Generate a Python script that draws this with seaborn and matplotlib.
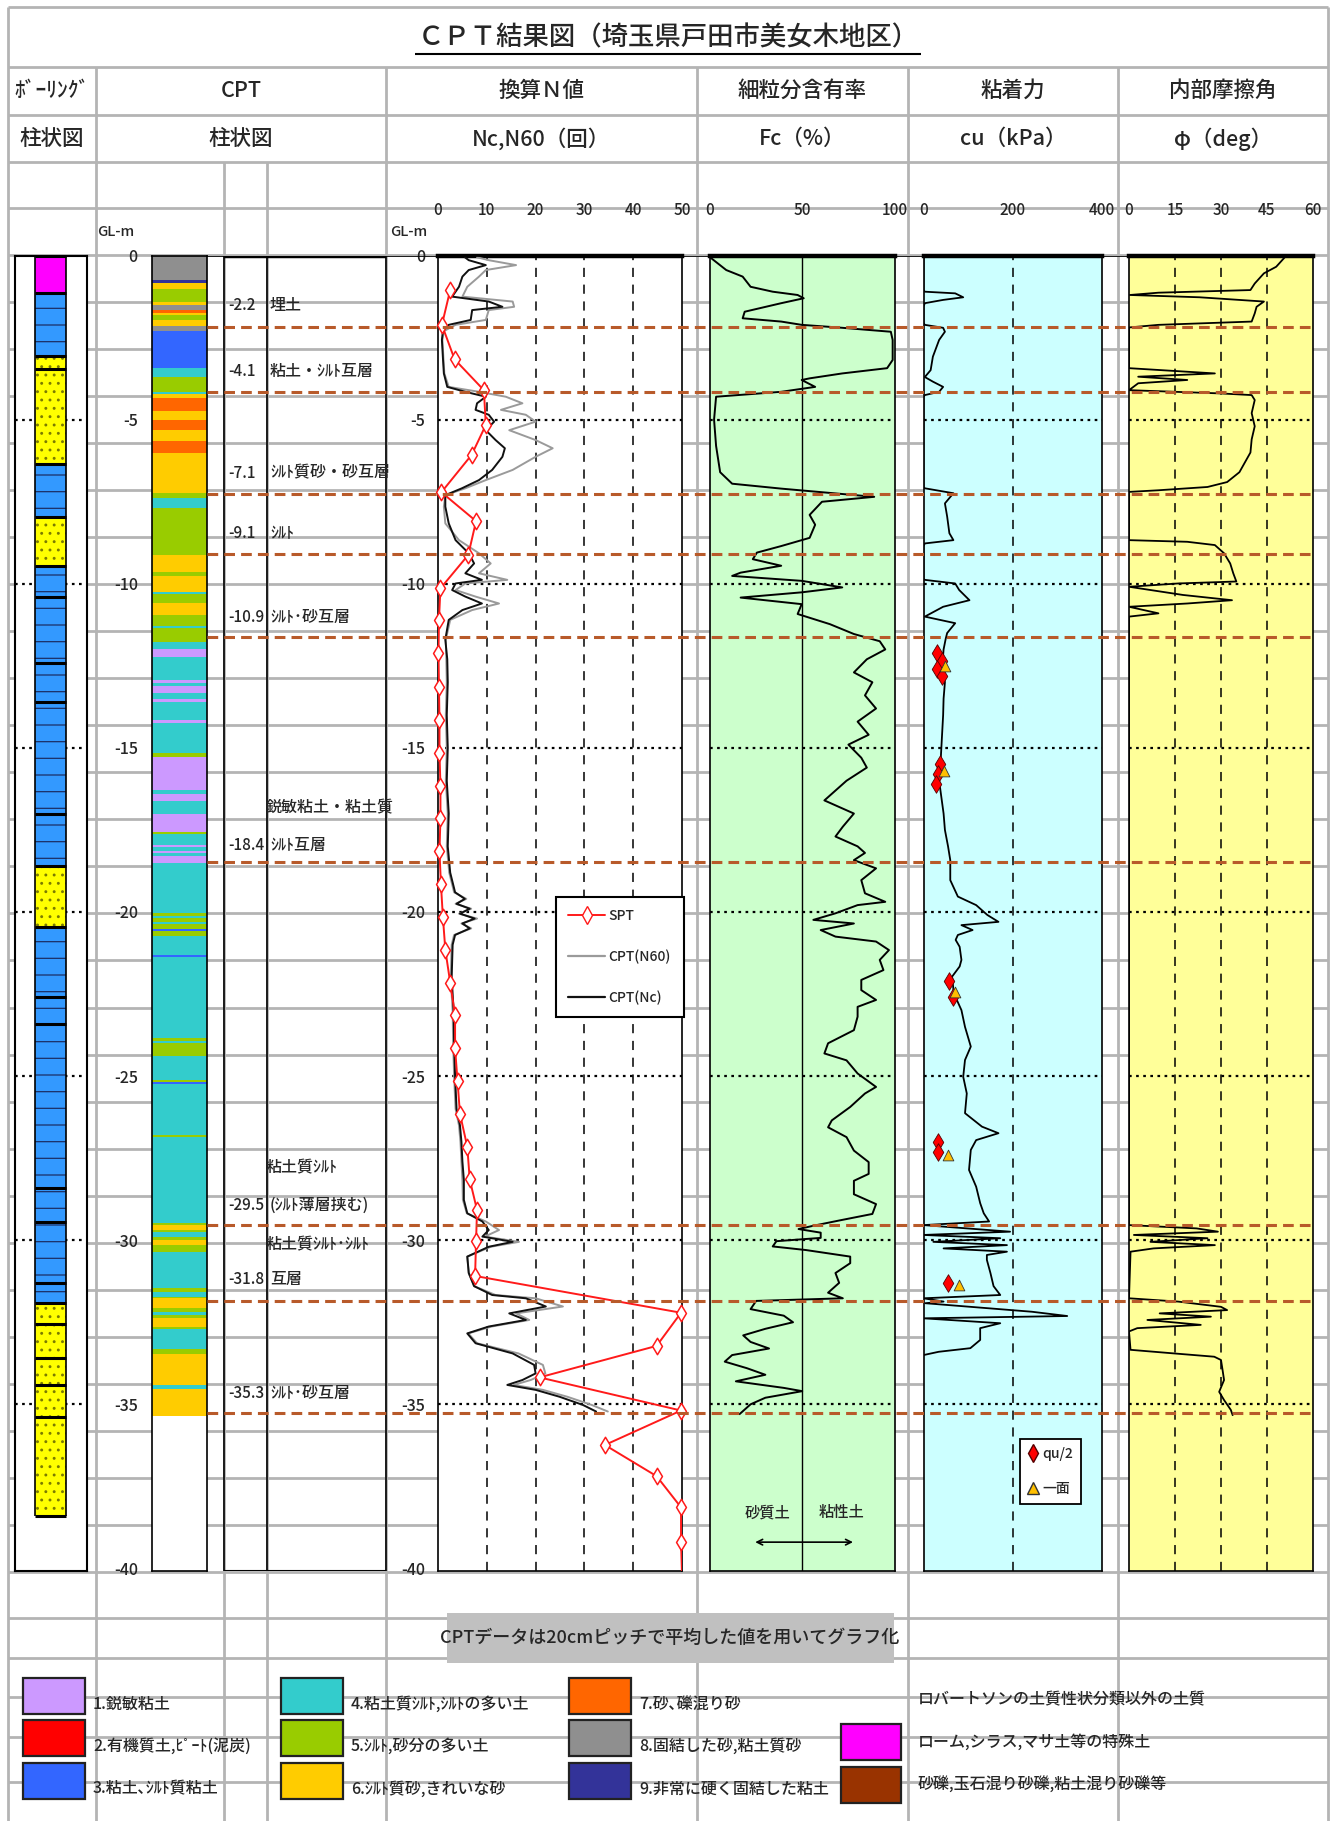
import numpy as np
import pandas as pd
import matplotlib
matplotlib.use('Agg')
import matplotlib.pyplot as plt
from matplotlib.patches import Rectangle
from matplotlib.lines import Line2D
import seaborn as sns

sns.set_style('white')
plt.rcParams['font.family'] = ['Noto Sans CJK JP', 'DejaVu Sans']
plt.rcParams['font.weight'] = 'medium'
plt.rcParams['hatch.linewidth'] = 0.9

# ---------------- data ----------------
# boring log layers (depth below GL, m)
boring_top = [0.0, 1.15, 3.05, 3.45, 6.35, 7.95, 9.45, 10.4, 12.4, 13.6, 17.0, 18.6,
              20.45, 22.6, 23.4, 28.4, 29.45, 31.3, 31.9, 32.55, 33.6, 34.4, 35.4]
boring_bot = boring_top[1:] + [38.4]
boring_soil = ['loam', 'clay', 'sand', 'sand', 'clay', 'sand', 'clay', 'clay', 'clay', 'clay',
               'clay', 'sand', 'clay', 'clay', 'clay', 'clay', 'clay', 'clay', 'sand', 'sand',
               'sand', 'sand', 'sand']

# CPT soil behaviour type bands (Robertson class)
cpt_top = [0.00, 0.74, 0.85, 1.03, 1.40, 1.50, 1.66, 1.74, 1.81, 1.96,
           2.14, 2.29, 3.41, 3.71, 4.15, 4.22, 4.35, 4.75, 5.01, 5.31,
           5.64, 6.02, 7.24, 7.40, 7.70, 9.12, 9.63, 9.76, 10.24, 10.31,
           10.59, 10.95, 11.29, 11.36, 11.76, 12.00, 12.22, 12.93, 13.03, 13.11,
           13.34, 13.52, 13.59, 14.15, 14.23, 15.17, 15.27, 16.28, 16.39, 16.61,
           17.01, 17.55, 17.62, 17.96, 18.03, 18.13, 18.21, 18.29, 18.52, 20.02,
           20.12, 20.19, 20.29, 20.37, 20.53, 20.59, 20.73, 21.31, 21.37, 23.85,
           23.92, 24.00, 24.39, 25.12, 25.18, 25.25, 26.80, 26.87, 29.49, 29.55,
           29.68, 29.74, 29.89, 29.99, 30.14, 30.35, 31.47, 31.57, 31.74, 31.77,
           32.08, 32.18, 32.28, 32.38, 32.64, 32.72, 33.30, 33.47, 34.41, 34.52]
cpt_cls = [8, 9, 6, 5, 6, 8, 7, 6, 5, 6,
           8, 3, 4, 5, 4, 6, 7, 6, 7, 6,
           7, 6, 5, 4, 5, 6, 5, 6, 4, 5,
           6, 5, 4, 5, 4, 1, 4, 1, 4, 1,
           4, 1, 4, 1, 4, 5, 1, 4, 1, 4,
           1, 5, 4, 1, 4, 1, 4, 1, 4, 5,
           4, 5, 4, 5, 3, 5, 4, 3, 4, 5,
           4, 5, 4, 5, 3, 4, 5, 4, 5, 6,
           5, 4, 5, 6, 5, 4, 5, 4, 5, 6,
           5, 4, 5, 6, 5, 4, 5, 6, 4, 6]
cpt_end = 35.36

# SPT N values
spt_depth = [1.05, 2.11, 3.16, 4.10, 5.16, 6.07, 7.21, 8.09, 9.12, 10.14, 11.10, 12.12,
             13.15, 14.15, 15.15, 16.15, 17.15, 18.15, 19.15, 20.15, 21.15, 22.15, 23.15,
             24.15, 25.15, 26.15, 27.15, 28.15, 29.08, 30.02, 31.09, 32.21, 33.22, 34.18,
             35.19, 36.24, 37.19, 38.14, 39.19, 40.2]
spt_n = [2.5, 0.8, 3.4, 9.4, 9.8, 6.9, 0.7, 7.8, 6.2, 0.5, 0.2, 0.1,
         0.2, 0.3, 0.3, 0.5, 0.5, 0.3, 0.6, 1.0, 1.5, 2.5, 3.5,
         3.5, 4.0, 4.5, 6.0, 6.5, 8.0, 7.8, 7.6, 49.8, 44.8, 20.8,
         49.8, 34.2, 44.8, 49.8, 49.8, 50.0]

# CPT converted N (Nc)
nc_depth = [0.05, 0.14, 0.29, 0.44, 0.64, 0.95, 1.25, 1.40, 1.56, 1.66, 1.96, 2.11, 2.30,
            2.57, 3.10, 3.59, 4.00, 4.15, 4.30, 4.50, 4.70, 4.85, 5.06, 5.32, 5.62, 5.87,
            6.13, 6.53, 6.84, 7.09, 7.30, 7.65, 8.16, 8.67, 9.07, 9.38, 9.68, 9.88, 9.99,
            10.19, 10.39, 10.60, 10.80, 11.10, 11.70, 12.30, 13.0, 14.0, 15.0, 16.0, 17.0,
            18.0, 18.8, 19.4, 19.6, 19.75, 19.9, 20.05, 20.2, 20.35, 20.5, 20.7, 21.0, 22.0,
            23.0, 24.0, 25.0, 26.0, 26.5, 27.0, 27.6, 28.16, 28.77, 29.18, 29.43, 29.69,
            29.89, 30.05, 30.2, 30.5, 31.0, 31.4, 31.67, 31.77, 32.02, 32.23, 32.43, 32.63,
            32.84, 33.14, 33.45, 33.8, 34.06, 34.26, 34.41, 34.56, 34.77, 35.02, 35.22]
nc_val = [5.5, 6.3, 9.8, 6.3, 5.0, 4.3, 2.9, 10.4, 13.2, 7.0, 6.7, 2.2, 1.0,
          0.8, 1.0, 1.2, 1.9, 5.6, 9.8, 8.0, 7.7, 10.4, 11.5, 9.8, 11.8, 13.7,
          13.2, 11.1, 8.4, 4.9, 1.5, 1.5, 2.2, 3.6, 6.3, 7.4, 5.6, 9.0, 3.6,
          2.9, 5.6, 9.0, 5.0, 2.2, 1.5, 1.9, 2.0, 1.8, 2.0, 1.8, 2.2,
          2.0, 2.5, 3.5, 5.5, 3.8, 6.5, 4.5, 7.5, 5.0, 6.5, 3.5, 3.0, 2.8,
          3.2, 3.3, 3.5, 3.8, 4.5, 4.8, 5.0, 5.3, 5.3, 6.0, 9.1, 10.4,
          9.1, 15.3, 10.4, 6.0, 6.3, 7.4, 11.1, 18.0, 22.1, 14.6, 18.0, 10.4,
          6.0, 7.7, 15.3, 19.7, 20.0, 17.3, 14.2, 20.0, 24.9, 29.7, 32.4]

# CPT N60
n60_depth = nc_depth
n60_val = [8.0, 10.4, 16.0, 9.8, 8.4, 6.0, 5.0, 15.3, 15.6, 10.4, 9.8, 3.6, 1.2,
           0.9, 1.1, 1.3, 2.2, 8.4, 13.9, 17.3, 12.9, 18.0, 20.0, 14.6, 20.0, 23.5,
           20.0, 15.3, 9.8, 5.6, 1.5, 1.2, 1.5, 4.3, 8.4, 10.8, 8.4, 14.2, 5.6,
           3.6, 7.7, 12.5, 7.0, 2.5, 1.6, 1.7, 1.8, 1.6, 1.8, 1.6, 2.0,
           1.8, 2.3, 3.3, 5.8, 3.6, 6.8, 4.3, 8.0, 4.8, 6.8, 3.3, 2.8, 2.6,
           3.0, 3.1, 3.3, 3.6, 4.3, 4.6, 4.8, 5.0, 5.1, 5.9, 9.8, 12.5,
           9.6, 16.6, 10.8, 6.0, 6.3, 7.4, 11.8, 20.0, 25.6, 16.0, 18.7, 11.0,
           6.2, 8.0, 16.5, 21.5, 22.0, 19.0, 15.5, 21.5, 26.5, 31.5, 34.8]

# fines content Fc (%)
fc_depth = [0.05, 0.44, 0.64, 0.95, 1.10, 1.20, 1.30, 1.45, 1.71, 1.91, 2.01, 2.11, 2.19,
            2.32, 2.57, 3.18, 3.43, 3.59, 3.74, 3.79, 4.00, 4.15, 4.30, 5.00, 5.80, 6.60,
            6.95, 7.10, 7.20, 7.35, 7.50, 7.90, 8.20, 8.60, 8.85, 9.05, 9.25, 9.45, 9.66,
            9.76, 9.91, 10.11, 10.26, 10.42, 10.62, 10.92, 11.23, 11.53, 11.75, 12.0, 12.3,
            12.7, 13.0, 13.4, 13.8, 14.2, 14.6, 14.9, 15.3, 15.6, 16.0, 16.3, 16.6, 17.0,
            17.4, 17.7, 18.0, 18.2, 18.42, 18.67, 19.03, 19.43, 19.69, 19.79, 20.04, 20.24,
            20.35, 20.55, 20.75, 20.90, 21.16, 21.46, 21.77, 22.07, 22.38, 22.68, 22.89,
            23.19, 23.60, 24.00, 24.31, 24.52, 24.92, 25.33, 25.53, 25.94, 26.35, 26.56,
            26.86, 27.27, 27.62, 27.98, 28.19, 28.60, 28.90, 29.20, 29.40, 29.56, 29.66,
            29.77, 29.93, 30.03, 30.19, 30.30, 30.40, 30.50, 30.70, 31.00, 31.30, 31.60,
            31.77, 31.85, 32.1, 32.3, 32.5, 32.7, 32.9, 33.1, 33.3, 33.5, 33.7, 33.9, 34.1,
            34.3, 34.5, 34.6, 34.8, 35.0, 35.2, 35.3]
fc_val = [0, 8.8, 17.7, 22, 34, 47.5, 50.8, 38.6, 18.8, 17.7, 38.6, 49.7, 69.5,
          98, 99, 99, 96, 71.7, 54, 49.7, 57, 38.6, 3.3, 2.2, 3.3, 5.5,
          12, 38.6, 58.5, 89, 60.7, 54, 57, 54, 38.6, 25.4, 23.2, 38.6, 16.6,
          12, 49.7, 71.7, 49.7, 16.6, 49.7, 47.5, 65, 78, 92, 95, 85,
          78, 88, 84, 90, 80, 86, 75, 82, 85, 74, 68, 62, 78,
          72, 68, 80, 84, 78, 90, 82, 84, 95, 80, 68, 56,
          78, 60, 68, 90, 97, 92, 94, 82, 82, 90, 80,
          80, 78, 64, 62, 74, 80, 90, 84, 76, 66, 64,
          74, 78, 86, 86, 78, 78, 90, 88, 70, 56, 48,
          60, 60, 36, 34, 52, 64, 76, 76, 68, 70, 64,
          72, 25, 22, 40, 45, 30, 18, 22, 32, 12, 8, 20, 30,
          14, 40, 50, 30, 22, 18, 16]

# cohesion cu (kPa), 0 where not evaluated
cu_depth = [0.00, 1.05, 1.10, 1.15, 1.27, 1.35, 1.45, 1.55, 2.05, 2.11, 2.20, 2.32, 2.57,
            3.08, 3.49, 3.70, 3.84, 4.00, 4.15, 4.25, 4.30, 7.05, 7.09, 7.24, 7.55, 7.95,
            8.46, 8.67, 8.77, 8.85, 9.85, 9.88, 9.99, 10.19, 10.50, 10.70, 11.00, 11.20,
            11.50, 11.66, 12.0, 12.5, 13.0, 13.5, 14.0, 14.5, 15.0, 15.5, 16.0, 16.5, 17.0,
            17.5, 18.0, 18.42, 19.03, 19.53, 19.79, 20.09, 20.30, 20.40, 20.55, 20.70, 20.85,
            21.06, 21.46, 21.66, 21.97, 22.48, 22.99, 23.50, 24.10, 24.51, 25.02, 25.53,
            26.13, 26.54, 26.74, 26.95, 27.25, 27.86, 28.37, 28.87, 29.18, 29.43, 29.54,
            29.64, 29.74, 29.84, 29.94, 30.05, 30.15, 30.25, 30.35, 30.45, 30.60, 31.00,
            31.40, 31.67, 31.77, 31.87, 31.92, 32.18, 32.31, 32.38, 32.53, 32.68, 32.84,
            33.04, 33.29, 33.40, 33.50]
cu_val = [0, 0, 3, 71, 89, 44, 3, 0, 0, 3, 44, 48, 35,
          21, 16, 3, 21, 44, 35, 3, 0, 0, 3, 67, 48, 53,
          58, 67, 3, 0, 0, 3, 71, 80, 103, 44, 3, 71,
          53, 50, 45, 42, 48, 45, 44, 42, 40, 38, 35, 40, 45,
          48, 55, 60, 60, 77, 118, 143, 168, 85, 110, 77, 72,
          81, 85, 81, 64, 68, 85, 93, 106, 93, 89, 97,
          93, 131, 168, 118, 106, 102, 118, 127, 135, 147, 0,
          97, 194, 0, 172, 22, 187, 45, 187, 142, 142, 150,
          157, 172, 0, 45, 4, 243, 322, 0, 172, 127, 127,
          127, 105, 34, 0]

# laboratory cohesion
qu2_depth = [12.1, 12.35, 12.6, 12.8, 15.5, 15.8, 16.1, 22.1, 22.6, 27.0, 27.3, 31.3]
qu2_val = [30, 42, 30, 42, 38, 32, 28, 58, 66, 32, 32, 56]
shear_depth = [12.5, 15.7, 22.45, 27.4, 31.35]
shear_val = [48, 45, 70, 56, 80]

# internal friction angle phi (deg)
phi_depth = [0.03, 0.34, 0.54, 0.85, 1.05, 1.13, 1.20, 1.27, 1.40, 1.56, 1.76, 2.01, 2.11,
             2.19, 3.43, 3.59, 3.69, 3.79, 3.89, 4.10, 4.20, 4.25, 4.40, 4.80, 5.20, 5.60,
             6.00, 6.60, 6.90, 7.05, 7.15, 7.20, 8.67, 8.72, 8.82, 9.07, 9.38, 9.68, 9.93,
             9.99, 10.09, 10.34, 10.50, 10.60, 10.70, 10.90, 11.00, 29.54, 29.64, 29.74,
             29.84, 29.94, 30.05, 30.15, 30.25, 30.35, 31.77, 31.87, 32.03, 32.13, 32.23,
             32.33, 32.43, 32.58, 32.68, 32.78, 33.34, 33.45, 33.55, 33.65, 33.95, 34.26,
             34.62, 34.87, 35.17, 35.33]
phi_val = [51, 48, 44, 41, 39.6, 9.6, 0.3, 23, 44, 41.6, 41, 40, 9.6,
           0, 0, 28, 3, 19, 3, 0, 30, 40, 41, 40, 41, 40,
           39.6, 36, 32, 25.6, 9.6, 0, 0, 19, 28, 31, 33, 34, 35,
           16, 0, 17.6, 33.6, 19, 0, 9.6, 0, 0, 22, 29,
           1.6, 25.6, 7, 28, 8, 0.5, 0, 16, 30, 32, 10,
           26.7, 6, 23.4, 2.7, 0, 0.5, 14.7, 27.8, 30, 30.5, 31,
           29.4, 31, 33.2, 33.8]

# layer boundaries and names
boundary_depth = [2.17, 4.16, 7.26, 9.09, 11.63, 18.49, 29.54, 31.84, 35.25]
layer_num = ['-2.2', '-4.1', '-7.1', '-9.1', '-10.9', '-18.4', '-29.5', '-31.8', '-35.3']
layer_text_depth = [1.51, 3.54, 6.63, 8.46, 11.04, 17.96, 28.93, 31.21, 34.66]
layer_name = ['埋土', '粘土・ｼﾙﾄ互層', 'ｼﾙﾄ質砂・砂互層', 'ｼﾙﾄ', 'ｼﾙﾄ･砂互層', 'ｼﾙﾄ互層',
              '(ｼﾙﾄ薄層挟む)', '互層', 'ｼﾙﾄ･砂互層']
extra_name = ['鋭敏粘土・粘土質', '粘土質ｼﾙﾄ', '粘土質ｼﾙﾄ･ｼﾙﾄ']
extra_name_depth = [16.84, 27.8, 30.15]

rob_colors = {1: '#cc99ff', 2: '#ff0000', 3: '#3366ff', 4: '#33cccc', 5: '#99cc00',
              6: '#ffcc00', 7: '#ff6600', 8: '#8f8f8f', 9: '#333399'}
rob_labels = ['1.鋭敏粘土', '2.有機質土,ﾋﾟｰﾄ(泥炭)', '3.粘土､ｼﾙﾄ質粘土',
              '4.粘土質ｼﾙﾄ,ｼﾙﾄの多い土', '5.ｼﾙﾄ,砂分の多い土', '6.ｼﾙﾄ質砂,きれいな砂',
              '7.砂､礫混り砂', '8.固結した砂,粘土質砂', '9.非常に硬く固結した粘土']
other_labels = ['ローム,シラス,マサ土等の特殊土', '砂礫,玉石混り砂礫,粘土混り砂礫等']
other_colors = ['#ff00ff', '#993300']

header1 = ['ﾎﾞｰﾘﾝｸﾞ', 'CPT', '換算Ｎ値', '細粒分含有率', '粘着力', '内部摩擦角']
header2 = ['柱状図', '柱状図', 'Nc,N60（回）', 'Fc（%）', 'cu（kPa）', 'φ（deg）']

# ---------------- layout ----------------
W, H = 1336, 1821
Y0, YB = 255.6, 1571.0
PPM = 32.82
DMAX = (YB - Y0) / PPM
GRID = '#b4b4b4'
BROWN = '#b85a2a'
depth_ticks = list(range(0, -45, -5))
depth_labels = [str(t) for t in depth_ticks]


def place(x0, x1, y0=Y0, y1=YB):
    return [x0 / W, 1 - y1 / H, (x1 - x0) / W, (y1 - y0) / H]


fig = plt.figure(figsize=(W / 100, H / 100), dpi=100)
bg = fig.add_axes([0, 0, 1, 1])
bg.set_xlim(0, W)
bg.set_ylim(H, 0)
bg.axis('off')

# spreadsheet cell grid
row_y = [7, 67, 115, 162, 208] + [208 + 47.03 * k for k in range(1, 30)] + [1618, 1658, 1697, 1737, 1782]
bg.hlines(row_y, 8, 1328, color=GRID, lw=2.0, zorder=0)
bg.vlines([8, 1328], 7, H, color=GRID, lw=2.0, zorder=0)
bg.vlines([96, 386, 697, 908, 1118], 67, H, color=GRID, lw=2.0, zorder=0)
bg.vlines([224, 267], 162, H, color=GRID, lw=2.0, zorder=0)

title = bg.text(668, 38, 'ＣＰＴ結果図（埼玉県戸田市美女木地区）', ha='center', va='center',
                fontsize=19)
header_x = [52, 241, 541.5, 802.5, 1013, 1223]
for hx, t1, t2 in zip(header_x, header1, header2):
    bg.text(hx, 91, t1, ha='center', va='center', fontsize=15.5)
    bg.text(hx, 139, t2, ha='center', va='center', fontsize=15.5)
bg.text(116, 232, 'GL-m', ha='center', va='center', fontsize=10.5)
bg.text(409, 232, 'GL-m', ha='center', va='center', fontsize=10.5)

# note box
bg.add_patch(Rectangle((447, 1613), 447, 50, facecolor='#c0c0c0', edgecolor='none', zorder=1))
bg.text(670, 1638, 'CPTデータは20cmピッチで平均した値を用いてグラフ化', ha='center',
        va='center', fontsize=13, zorder=2)

# bottom legend of soil classes
col_x = [23, 281, 569]
leg_row = [1678, 1720, 1763]
for i, (lab, cls) in enumerate(zip(rob_labels, range(1, 10))):
    cx, ry = col_x[i // 3], leg_row[i % 3]
    bg.add_patch(Rectangle((cx, ry), 62, 36, facecolor=rob_colors[cls], edgecolor='#222222',
                           lw=1.6, zorder=2))
    bg.text(cx + 70, ry + 26, lab, ha='left', va='center', fontsize=11.5, zorder=2)
bg.text(918, 1700, 'ロバートソンの土質性状分類以外の土質', ha='left', va='center', fontsize=11.5)
for j, (lab, col) in enumerate(zip(other_labels, other_colors)):
    ry = leg_row[j + 1] + 4
    bg.add_patch(Rectangle((841, ry), 60, 36, facecolor=col, edgecolor='#222222', lw=1.6,
                           zorder=2))
    bg.text(918, ry + 18, lab, ha='left', va='center', fontsize=11.5, zorder=2)

# ---------------- boring log ----------------
ax_b = fig.add_axes(place(15, 87))
ax_b.set_xlim(0, 1)
ax_b.set_ylim(-DMAX, 0)
ax_b.set_facecolor('white')
soil_style = {'loam': ('#ff00ff', None, '#222222'),
              'clay': ('#3399ff', '-', '#1c2f66'),
              'sand': ('#ffff00', '..', '#7a7a00')}
ax_b.hlines(depth_ticks[1:-1], 0, 1, color='k', lw=1.6, ls=(0, (1.2, 2)), zorder=0.5)
for top, bot, soil in zip(boring_top, boring_bot, boring_soil):
    fc, hatch, ec = soil_style[soil]
    ax_b.bar(0.495, -(bot - top), bottom=-top, width=0.43, color=fc, hatch=hatch,
             edgecolor=ec, linewidth=0, zorder=1)
ax_b.hlines([-d for d in boring_top] + [-boring_bot[-1]], 0.28, 0.71, color='k', lw=2.2, zorder=2)
ax_b.vlines([0.28, 0.71], -boring_bot[-1], 0, color='k', lw=1.2, zorder=2)
ax_b.set_xticks([])
ax_b.set_yticks([])
for s in ax_b.spines.values():
    s.set_color('k')
    s.set_linewidth(1.5)

# ---------------- CPT soil type column ----------------
ax_c = fig.add_axes(place(151.7, 207.3))
ax_c.set_xlim(0, 1)
ax_c.set_ylim(-DMAX, 0)
ax_c.set_facecolor('white')
cpt_bot = cpt_top[1:] + [cpt_end]
ax_c.bar([0.5] * len(cpt_top), [-(b - t) for t, b in zip(cpt_top, cpt_bot)],
         bottom=[-t for t in cpt_top], width=1.0, color=[rob_colors[c] for c in cpt_cls],
         linewidth=0)
ax_c.set_xticks([])
ax_c.set_yticks(depth_ticks, depth_labels)
ax_c.tick_params(axis='y', length=0, pad=10, labelsize=11.5)
for s in ax_c.spines.values():
    s.set_color('k')
    s.set_linewidth(1.2)


def panel(x0, x1, xlim, xticks, face):
    ax = fig.add_axes(place(x0, x1))
    ax.set_facecolor(face)
    ax.set_xlim(*xlim)
    ax.set_ylim(-DMAX, 0)
    ax.xaxis.tick_top()
    ax.set_xticks(xticks, [str(v) for v in xticks])
    ax.tick_params(axis='x', length=0, pad=26, labelsize=11)
    ax.set_yticks([])
    for s in ax.spines.values():
        s.set_color('k')
        s.set_linewidth(1.2)
    ax.spines['top'].set_linewidth(3.2)
    ax.hlines(depth_ticks[1:-1], xlim[0], xlim[1], color='k', lw=1.6, ls=(0, (1.2, 2)), zorder=1)
    return ax


def profile(ax, depth, val, **kw):
    df = pd.DataFrame({'v': val, 'd': [-d for d in depth]})
    sns.lineplot(data=df, x='v', y='d', orient='y', sort=False, estimator=None, ax=ax, **kw)
    ax.set_xlabel('')
    ax.set_ylabel('')


# ---------------- N value panel ----------------
ax_n = panel(438, 682, (0, 50), [0, 10, 20, 30, 40, 50], 'white')
ax_n.vlines([10, 20, 30, 40], -DMAX, 0, color='k', lw=1.1, ls=(0, (6, 5)), zorder=1)
ax_n.set_yticks(depth_ticks, depth_labels)
ax_n.tick_params(axis='y', left=False, labelleft=True, length=0, pad=9, labelsize=11.5)
profile(ax_n, n60_depth, n60_val, color='#9a9a9a', lw=1.4, zorder=3)
profile(ax_n, nc_depth, nc_val, color='#111111', lw=1.4, zorder=4)
profile(ax_n, spt_depth, spt_n, color='#ff1a1a', lw=1.4, zorder=5)
spt_df = pd.DataFrame({'n': spt_n, 'd': [-d for d in spt_depth]})
spt_df = spt_df[spt_df['d'] > -DMAX]
sns.scatterplot(data=spt_df, x='n', y='d', marker='d', s=70, color='white', edgecolor='#ff1a1a',
                linewidth=1.1, ax=ax_n, zorder=6, clip_on=False)
ax_n.set_xlabel('')
ax_n.set_ylabel('')
ax_n.legend(handles=[Line2D([], [], color='#ff1a1a', lw=1.4, marker='d', ms=9, mfc='white',
                            mec='#ff1a1a'),
                     Line2D([], [], color='#9a9a9a', lw=1.6),
                     Line2D([], [], color='#111111', lw=1.6)],
            labels=['SPT', 'CPT(N60)', 'CPT(Nc)'], loc='upper left',
            bbox_to_anchor=(0.455, 0.518), frameon=True, fancybox=False, framealpha=1,
            edgecolor='k', fontsize=10, handlelength=2.6, labelspacing=1.9, borderpad=0.9,
            handletextpad=0.3).get_frame().set_linewidth(1.5)

# ---------------- Fc panel ----------------
ax_f = panel(710, 894.5, (0, 100), [0, 50, 100], '#ccffcc')
ax_f.axvline(50, color='k', lw=1.0, zorder=1)
profile(ax_f, fc_depth, fc_val, color='k', lw=1.4, zorder=3)
ax_f.text(31, -38.3, '砂質土', ha='center', va='center', fontsize=11)
ax_f.text(71.5, -38.3, '粘性土', ha='center', va='center', fontsize=11)
ax_f.annotate('', xy=(79, -39.2), xytext=(23, -39.2),
              arrowprops=dict(arrowstyle='<->', color='k', lw=1.2))

# ---------------- cu panel ----------------
ax_u = panel(923.5, 1102, (0, 400), [0, 200, 400], '#ccffff')
ax_u.axvline(200, color='k', lw=1.1, ls=(0, (6, 5)), zorder=1)
profile(ax_u, cu_depth, cu_val, color='k', lw=1.3, zorder=3)
sns.scatterplot(x=qu2_val, y=[-d for d in qu2_depth], marker='d', s=80, color='#ff0000',
                edgecolor='#550000', linewidth=0.6, ax=ax_u, zorder=5)
sns.scatterplot(x=shear_val, y=[-d for d in shear_depth], marker='^', s=60, color='#ffbf00',
                edgecolor='#333333', linewidth=0.6, ax=ax_u, zorder=6)
ax_u.set_xlabel('')
ax_u.set_ylabel('')
ax_u.legend(handles=[Line2D([], [], ls='none', marker='d', ms=9, mfc='#ff0000', mec='#550000'),
                     Line2D([], [], ls='none', marker='^', ms=8, mfc='#ffbf00', mec='#333333')],
            labels=['qu/2', '一面'], loc='upper left', bbox_to_anchor=(0.50, 0.106),
            frameon=True, fancybox=False, framealpha=1, edgecolor='k', fontsize=10,
            handlelength=0.7, handletextpad=0.3, labelspacing=1.5,
            borderpad=0.6).get_frame().set_linewidth(1.3)

# ---------------- phi panel ----------------
ax_p = panel(1129, 1313, (0, 60), [0, 15, 30, 45, 60], '#ffff99')
ax_p.vlines([15, 30, 45], -DMAX, 0, color='k', lw=1.1, ls=(0, (6, 5)), zorder=1)
profile(ax_p, phi_depth, phi_val, color='k', lw=1.3, zorder=3)

# ---------------- layer boundaries and names ----------------
ax_l = fig.add_axes(place(207, 1313))
ax_l.set_xlim(207, 1313)
ax_l.set_ylim(-DMAX, 0)
ax_l.axis('off')
ax_l.set_zorder(10)
ax_l.axhline(0, color='k', lw=1.2)
ax_l.hlines(0, 224, 386, color='k', lw=3.2)
ax_l.hlines(-DMAX, 224, 386, color='k', lw=1.5)
ax_l.vlines([224, 267, 386], -DMAX, 0, color='k', lw=1.2)
ax_l.hlines([-d for d in boundary_depth], 207, 1313, color=BROWN, lw=2.2, ls=(0, (3.5, 2)))
for num, d, name in zip(layer_num, layer_text_depth, layer_name):
    ax_l.text(228, -d, num, ha='left', va='center', fontsize=11)
    ax_l.text(270, -d, name, ha='left', va='center', fontsize=11.5)
for name, d in zip(extra_name, extra_name_depth):
    ax_l.text(266, -d, name, ha='left', va='center', fontsize=11.5)

# title underline
fig.canvas.draw()
bb = title.get_window_extent()
bg.hlines(H - bb.y0 + 2, bb.x0 - 2, bb.x1 + 2, color='k', lw=1.5)

fig.savefig('out.png', dpi=100)
